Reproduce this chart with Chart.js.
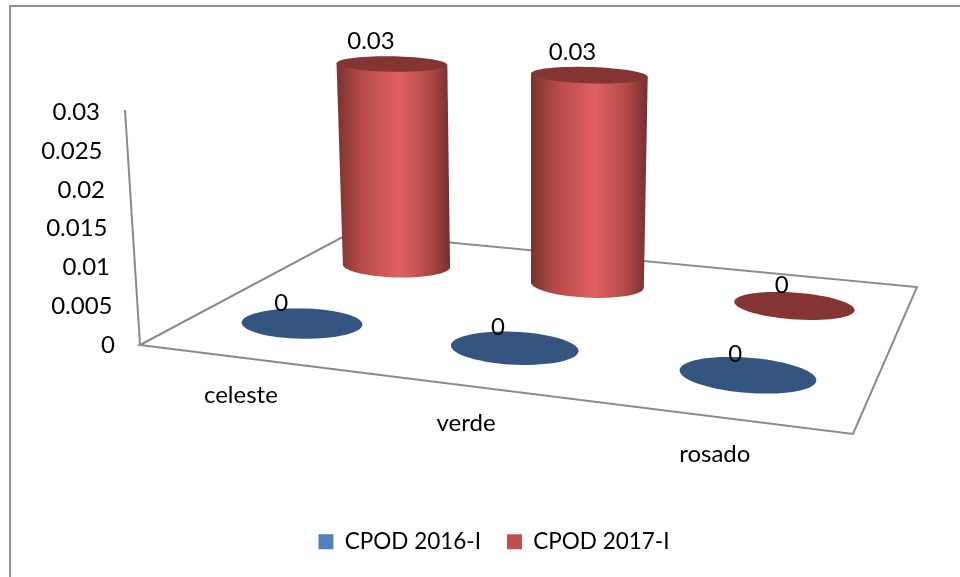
<!DOCTYPE html>
<html>
<head>
<meta charset="utf-8">
<style>
  html, body { margin: 0; padding: 0; background: #fff; }
  #wrap { width: 960px; height: 577px; }
</style>
<script src="https://cdn.jsdelivr.net/npm/chart.js@4"></script>
</head>
<body>
<div id="wrap"><canvas id="chart" width="960" height="577"></canvas></div>
<script>
const categories = ['celeste', 'verde', 'rosado'];
const cpod2016 = [0, 0, 0];
const cpod2017 = [0.03, 0.03, 0];
const yTicks = [0, 0.005, 0.01, 0.015, 0.02, 0.025, 0.03];

const FONT = '24px Lato';
const TEXT = '#000';
const LINE = '#8a8a8a';

// floor of the 3D box, clockwise from front-left corner
const floor = [[140, 345], [853, 434], [917, 287], [350, 233]];

// unit square -> floor quad
function makeProjection(q) {
  const [[x0, y0], [x1, y1], [x2, y2], [x3, y3]] = q;
  const dx1 = x1 - x2, dy1 = y1 - y2, dx2 = x3 - x2, dy2 = y3 - y2;
  const sx = x0 - x1 + x2 - x3, sy = y0 - y1 + y2 - y3;
  const den = dx1 * dy2 - dx2 * dy1;
  const g = (sx * dy2 - dx2 * sy) / den;
  const h = (dx1 * sy - sx * dy1) / den;
  const a = x1 - x0 + g * x1, b = x3 - x0 + h * x3;
  const d = y1 - y0 + g * y1, e = y3 - y0 + h * y3;
  return (u, v) => {
    const w = g * u + h * v + 1;
    return { x: (a * u + b * v + x0) / w, y: (d * u + e * v + y0) / w, s: 1 / w };
  };
}
const project = makeProjection(floor);

// vertical lines lean away from this x as they rise, tops look flatter
const leanX = 530, leanK = 0.034, flatten = 0.35, riseBoost = 1.02;
const radiusU = 0.092, radiusV = 0.105;
const seriesStyle = [
  { flat: '#34557f', shade: ['#2c4a70', '#3f6797', '#4f81bd', '#3f6797', '#2c4a70'] },
  { flat: '#843533', shade: ['#7a3230', '#b24a47', '#e06160', '#b24a47', '#74302e'] }
];
const shadeStops = [0, 0.2, 0.55, 0.82, 1];

function ringPoints(u, v, rise, amount) {
  const c = project(u, v);
  const pts = [];
  for (let i = 0; i < 64; i++) {
    const t = i / 64 * Math.PI * 2;
    const p = project(u + radiusU * Math.cos(t), v + radiusV * Math.sin(t));
    pts.push({
      x: p.x + (p.x - leanX) * leanK * amount,
      y: c.y + (p.y - c.y) * (1 - flatten * amount) - rise * riseBoost * c.s
    });
  }
  return pts;
}

function tracePath(ctx, pts) {
  ctx.beginPath();
  pts.forEach((p, i) => i ? ctx.lineTo(p.x, p.y) : ctx.moveTo(p.x, p.y));
  ctx.closePath();
}

const cylinderPlugin = {
  id: 'cylinders',
  // the bars themselves are replaced by the cylinders below
  beforeDatasetDraw() { return false; },
  beforeDraw(chart) {
    const ctx = chart.ctx, yScale = chart.scales.y;
    ctx.save();
    // frame, only top and left are inside the picture
    ctx.strokeStyle = '#8f8f8f';
    ctx.lineWidth = 2;
    ctx.beginPath();
    ctx.moveTo(960, 6);
    ctx.lineTo(10, 6);
    ctx.lineTo(10, 577);
    ctx.stroke();
    ctx.strokeStyle = LINE;
    ctx.lineWidth = 2;
    tracePath(ctx, floor.map(c => ({ x: c[0], y: c[1] })));
    ctx.stroke();
    ctx.beginPath();
    ctx.moveTo(floor[0][0], floor[0][1]);
    ctx.lineTo(125, yScale.getPixelForValue(0.03) - 2);
    ctx.stroke();
    ctx.restore();
  },
  afterDatasetsDraw(chart) {
    const ctx = chart.ctx, xs = chart.scales.x, yScale = chart.scales.y;
    const area = chart.chartArea;
    const zero = yScale.getPixelForValue(0);
    ctx.save();
    // back row first
    const labels = [];
    for (let di = chart.data.datasets.length - 1; di >= 0; di--) {
      const values = chart.data.datasets[di].data;
      const style = seriesStyle[di];
      const v = (di + 0.5) / chart.data.datasets.length;
      values.forEach((val, i) => {
        const u = (xs.getPixelForValue(i) - area.left) / area.width;
        const rise = zero - yScale.getPixelForValue(val);
        const amount = val / yScale.max;
        const base = ringPoints(u, v, 0, 0);
        const top = ringPoints(u, v, rise, amount);
        if (rise > 0) {
          const sideOf = pts => [
            pts.reduce((m, p) => p.x < m.x ? p : m),
            pts.reduce((m, p) => p.x > m.x ? p : m)
          ];
          const [bl, br] = sideOf(base), [tl, tr] = sideOf(top);
          const grad = ctx.createLinearGradient(Math.min(bl.x, tl.x), 0, Math.max(br.x, tr.x), 0);
          shadeStops.forEach((s, k) => grad.addColorStop(s, style.shade[k]));
          ctx.fillStyle = grad;
          ctx.beginPath();
          ctx.moveTo(tl.x, tl.y);
          ctx.lineTo(bl.x, bl.y);
          ctx.lineTo(br.x, br.y);
          ctx.lineTo(tr.x, tr.y);
          ctx.closePath();
          ctx.fill();
          tracePath(ctx, base);
          ctx.fill();
        }
        ctx.fillStyle = style.flat;
        tracePath(ctx, top);
        ctx.fill();
        const c = project(u, v);
        labels.push({
          text: String(val),
          x: c.x + (c.x - leanX) * leanK * amount - 23 + 13 * u,
          y: c.y - rise * riseBoost * c.s - 20 - 3 * amount
        });
      });
    }

    ctx.font = FONT;
    ctx.fillStyle = TEXT;
    ctx.textBaseline = 'middle';
    ctx.textAlign = 'center';
    labels.forEach(l => ctx.fillText(l.text, l.x, l.y));

    // category labels under the front edge
    categories.forEach((name, i) => {
      const u = (xs.getPixelForValue(i) - area.left) / area.width;
      const p = project(u, 0);
      ctx.fillText(name, p.x - 4, p.y + 37);
    });

    // value labels along the leaning wall edge
    ctx.textAlign = 'right';
    yTicks.forEach(t => {
      const lean = 15 * t / yScale.max;
      ctx.fillText(String(t), 115 - lean, yScale.getPixelForValue(t));
    });
    ctx.restore();
  }
};

new Chart(document.getElementById('chart'), {
  type: 'bar',
  data: {
    labels: categories,
    datasets: [
      { label: 'CPOD 2016-I', data: cpod2016, backgroundColor: '#4f81bd' },
      { label: 'CPOD 2017-I', data: cpod2017, backgroundColor: '#c0504d' }
    ]
  },
  options: {
    responsive: false,
    animation: false,
    layout: { padding: { left: 140, right: 112, top: 112, bottom: 14 } },
    scales: {
      x: {
        grid: { display: false },
        border: { display: false },
        ticks: { display: false },
        afterFit: scale => { scale.height = 159; }
      },
      y: {
        display: false,
        min: 0,
        max: 0.03,
        ticks: { stepSize: 0.005 }
      }
    },
    plugins: {
      tooltip: { enabled: false },
      legend: {
        position: 'bottom',
        labels: {
          boxWidth: 15,
          boxHeight: 15,
          color: TEXT,
          font: { family: 'Lato', size: 22.5 },
          padding: 26
        }
      }
    }
  },
  plugins: [cylinderPlugin]
});
</script>
</body>
</html>
